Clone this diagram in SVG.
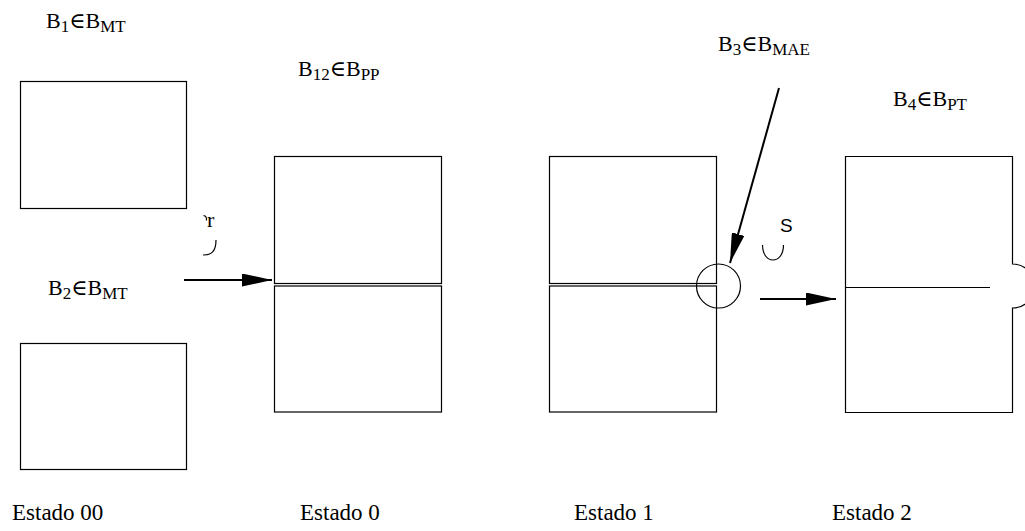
<svg xmlns="http://www.w3.org/2000/svg" width="1025" height="531" viewBox="0 0 1025 531">
  <style>
    .box { fill: none; stroke: #000; stroke-width: 1.2; }
    .thin { fill: none; stroke: #000; stroke-width: 1.2; }
    .arrow { fill: none; stroke: #000; stroke-width: 2; }
    .lbl { font-family: "Liberation Serif", "DejaVu Serif", serif; font-size: 22px; fill: #000; }
    .cap { font-family: "Liberation Serif", "DejaVu Serif", serif; font-size: 23px; fill: #000; }
    .sub { font-family: "Liberation Serif", "DejaVu Serif", serif; font-size: 17px; }
    .sans { font-family: "Liberation Sans", "DejaVu Sans", sans-serif; font-size: 19px; fill: #000; }
  </style>
  <defs>
    <marker id="head" markerUnits="userSpaceOnUse" markerWidth="30" markerHeight="13" refX="30" refY="6.5" orient="auto">
      <path d="M0,0 L30,6.5 L0,13 Z" fill="#000"/>
    </marker>
  </defs>

  <!-- Estado 00: two separate blocks -->
  <g id="b1">
    <rect class="box" x="20.5" y="81.5" width="166" height="127"/>
    <text class="lbl" x="46" y="28">B<tspan class="sub" dy="4">1</tspan><tspan dy="-4">∈B</tspan><tspan class="sub" dy="4">MT</tspan></text>
  </g>
  <g id="b2">
    <rect class="box" x="20.5" y="343.5" width="166" height="126"/>
    <text class="lbl" x="48" y="295">B<tspan class="sub" dy="4">2</tspan><tspan dy="-4">∈B</tspan><tspan class="sub" dy="4">MT</tspan></text>
  </g>

  <!-- Estado 0: blocks placed in contact -->
  <g id="b12">
    <rect class="box" x="274.5" y="156.5" width="167" height="127"/>
    <rect class="box" x="274.5" y="286" width="167" height="126"/>
    <text class="lbl" x="298" y="76">B<tspan class="sub" dy="4">12</tspan><tspan dy="-4">∈B</tspan><tspan class="sub" dy="4">PP</tspan></text>
  </g>

  <!-- Estado 1: contact with marked zone -->
  <g id="b3">
    <rect class="box" x="549.5" y="156.5" width="167" height="127"/>
    <rect class="box" x="549.5" y="286" width="167" height="126"/>
    <circle class="thin" cx="718.5" cy="286" r="22"/>
    <text class="lbl" x="718" y="51">B<tspan class="sub" dy="4">3</tspan><tspan dy="-4">∈B</tspan><tspan class="sub" dy="4">MAE</tspan></text>
  </g>

  <!-- Estado 2: merged block with bulge -->
  <g id="b4">
    <path class="box" d="M845.5,156.5 H1012.5 V264 A22,22 0 0 1 1012.5,308 V412.5 H845.5 Z"/>
    <line class="thin" x1="845.5" y1="287.5" x2="990" y2="287.5"/>
    <text class="lbl" x="893" y="106">B<tspan class="sub" dy="4">4</tspan><tspan dy="-4">∈B</tspan><tspan class="sub" dy="4">PT</tspan></text>
  </g>

  <!-- transition symbols -->
  <g id="op1">
    <path class="thin" d="M203.5,215.5 q3.5,0.5 3,5"/>
    <text class="lbl" x="207" y="227">r</text>
    <path class="thin" d="M216,240 C216,251 212,255 203,255"/>
  </g>
  <g id="op2">
    <text class="sans" x="780" y="232">S</text>
    <path class="thin" d="M762.5,245 C762.5,265 783.5,265 783.5,245"/>
  </g>

  <g id="connectors">
    <line class="arrow" x1="184" y1="280" x2="272" y2="280" marker-end="url(#head)"/>
    <line class="arrow" x1="779" y1="88" x2="730" y2="263" marker-end="url(#head)"/>
    <line class="arrow" x1="760" y1="299" x2="836" y2="299" marker-end="url(#head)"/>
  </g>

  <!-- state captions -->
  <g id="captions">
    <text class="cap" x="12" y="520">Estado 00</text>
    <text class="cap" x="300" y="520">Estado 0</text>
    <text class="cap" x="574" y="520">Estado 1</text>
    <text class="cap" x="832" y="520">Estado 2</text>
  </g>
</svg>
